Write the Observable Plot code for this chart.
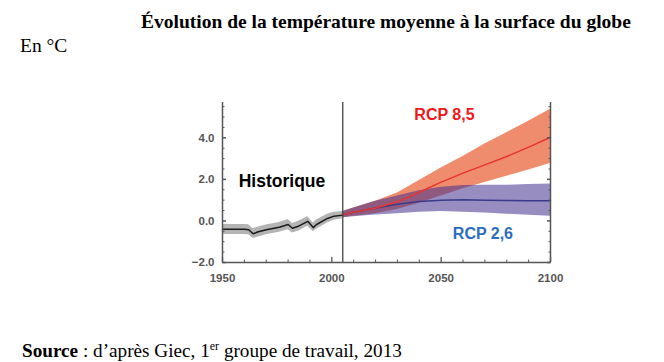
<!DOCTYPE html>
<html><head><meta charset="utf-8">
<script src="https://cdn.jsdelivr.net/npm/d3@7"></script>
<script src="https://cdn.jsdelivr.net/npm/@observablehq/plot@0.6"></script>
<style>
body{margin:0;background:#fff;width:664px;height:362px;position:relative;overflow:hidden;}
#chart{position:absolute;left:0;top:0;}
.t{position:absolute;font-family:"Liberation Serif","Times New Roman",serif;color:#000;white-space:nowrap;line-height:1;}
.t sup{font-size:12px;vertical-align:7px;line-height:0;}
</style></head><body>
<div id="chart"></div>
<div class="t" id="title" style="left:141px;top:12px;font-size:19.5px;font-weight:bold;">Évolution de la température moyenne à la surface du globe</div>
<div class="t" style="left:20px;top:36px;font-size:19.5px;">En °C</div>
<div class="t" style="left:22px;top:341px;font-size:19.2px;"><b>Source</b> : d’après Giec, 1<sup>er</sup> groupe de travail, 2013</div>
<script>
// Historical series
const histYears = [1950, 1955, 1960, 1962, 1964, 1966, 1970, 1976, 1980, 1982, 1985, 1989, 1991.5, 1993, 1998, 2001, 2005];
const histMean  = [-0.40, -0.40, -0.40, -0.42, -0.62, -0.53, -0.42, -0.30, -0.17, -0.35, -0.24, -0.02, -0.32, -0.17, 0.12, 0.23, 0.28];
const histLow   = [-0.65, -0.65, -0.65, -0.67, -0.85, -0.78, -0.66, -0.54, -0.42, -0.58, -0.48, -0.25, -0.52, -0.40, -0.10, 0.03, 0.10];
const histHigh  = [-0.17, -0.17, -0.17, -0.18, -0.38, -0.30, -0.20, -0.07, 0.07, -0.12, 0.00, 0.20, -0.10, 0.05, 0.32, 0.42, 0.45];

// Projections
const projYears = [2005, 2010, 2020, 2030, 2040, 2050, 2060, 2070, 2080, 2090, 2100];
const rcp85Mean = [0.30, 0.42, 0.62, 0.92, 1.38, 1.87, 2.30, 2.70, 3.10, 3.55, 4.03];
const rcp85Low  = [0.15, 0.22, 0.35, 0.55, 0.85, 1.20, 1.55, 1.85, 2.15, 2.45, 2.76];
const rcp85High = [0.45, 0.62, 0.95, 1.35, 1.95, 2.55, 3.10, 3.70, 4.25, 4.80, 5.37];
const rcp26Mean = [0.30, 0.42, 0.62, 0.80, 0.93, 1.00, 1.02, 1.00, 0.98, 0.97, 0.97];
const rcp26Low  = [0.15, 0.20, 0.28, 0.35, 0.42, 0.45, 0.42, 0.38, 0.32, 0.27, 0.22];
const rcp26High = [0.45, 0.62, 0.95, 1.20, 1.45, 1.62, 1.70, 1.72, 1.72, 1.75, 1.78];

// Axes
const xDomain = [1950, 2100];
const yDomain = [-2, 5.7];
const xTickLabels = [1950, 2000, 2050, 2100];
const xMinorTicks = [1960, 1970, 1980, 1990, 2010, 2020, 2030, 2040, 2060, 2070, 2080, 2090];
const yTickLabels = [-2, 0, 2, 4];
const yMinorTicks = [-1.5, -1, -0.5, 0.5, 1, 1.5, 2.5, 3, 3.5, 4.5, 5, 5.5];
const splitYear = [2005];
const labels = [
  {text: "Historique", x: 1977.2, y: 1.9, color: "#000000", size: 17.5},
  {text: "RCP 8,5", x: 2051.5, y: 5.09, color: "#f01818", size: 16},
  {text: "RCP 2,6", x: 2069.1, y: -0.64, color: "#2a6ebb", size: 16}
];

const hist = histYears.map((year, i) => ({year, mean: histMean[i], low: histLow[i], high: histHigh[i]}));
const rcp85 = projYears.map((year, i) => ({year, mean: rcp85Mean[i], low: rcp85Low[i], high: rcp85High[i]}));
const rcp26 = projYears.map((year, i) => ({year, mean: rcp26Mean[i], low: rcp26Low[i], high: rcp26High[i]}));

const axisColor = "#555";
const chart = Plot.plot({
  width: 664,
  height: 300,
  marginLeft: 222,
  marginRight: 114,
  marginTop: 102,
  marginBottom: 38,
  style: {fontFamily: "'Liberation Sans', Arial, sans-serif", fontSize: "11.5px", color: "#444", background: "transparent"},
  x: {domain: xDomain, label: null},
  y: {domain: yDomain, label: null},
  marks: [
    Plot.areaY(hist, {x: "year", y1: "low", y2: "high", fill: "#b4b4b4"}),
    Plot.areaY(rcp85, {x: "year", y1: "low", y2: "high", fill: "#f08c6e"}),
    Plot.areaY(rcp26, {x: "year", y1: "low", y2: "high", fill: "rgb(66,48,142)", fillOpacity: 0.55}),
    Plot.line(hist, {x: "year", y: "mean", stroke: "#1a1a1a", strokeWidth: 1.5}),
    Plot.line(rcp26, {x: "year", y: "mean", stroke: "#3b3a8c", strokeWidth: 1.5}),
    Plot.line(rcp85, {x: "year", y: "mean", stroke: "#e8352c", strokeWidth: 1.5}),
    Plot.ruleX(splitYear, {stroke: "#444", strokeWidth: 1.3}),
    Plot.ruleX(xDomain, {stroke: axisColor, strokeWidth: 1.5}),
    Plot.ruleY([yDomain[0]], {stroke: axisColor, strokeWidth: 1.5}),
    Plot.axisY({ticks: yTickLabels, tickSize: 0, tickPadding: 8, tickFormat: d3.format(".1f"), fontWeight: "bold", fill: "#555"}),
    Plot.axisY({ticks: yTickLabels, tickSize: 4, dx: 4, text: null, stroke: axisColor, strokeWidth: 1.5}),
    Plot.axisY({ticks: yMinorTicks, tickSize: 2.5, dx: 2.5, text: null, stroke: axisColor}),
    Plot.axisY({anchor: "right", ticks: yTickLabels, tickSize: 4, dx: -4, text: null, stroke: axisColor, strokeWidth: 1.5}),
    Plot.axisY({anchor: "right", ticks: yMinorTicks, tickSize: 2.5, dx: -2.5, text: null, stroke: axisColor}),
    Plot.axisX({ticks: xTickLabels, tickSize: 0, tickPadding: 11, tickFormat: d3.format("d"), fontWeight: "bold", fill: "#555"}),
    Plot.axisX({ticks: xTickLabels, tickSize: 5, dy: -5, text: null, stroke: axisColor, strokeWidth: 1.3}),
    Plot.axisX({ticks: xMinorTicks, tickSize: 2.5, dy: -2.5, text: null, stroke: axisColor}),
    Plot.text(labels, {x: "x", y: "y", text: "text", fill: "color", fontSize: "size", fontWeight: "bold", textAnchor: "middle", lineAnchor: "middle"})
  ]
});
document.getElementById("chart").appendChild(chart);
</script>
</body></html>
